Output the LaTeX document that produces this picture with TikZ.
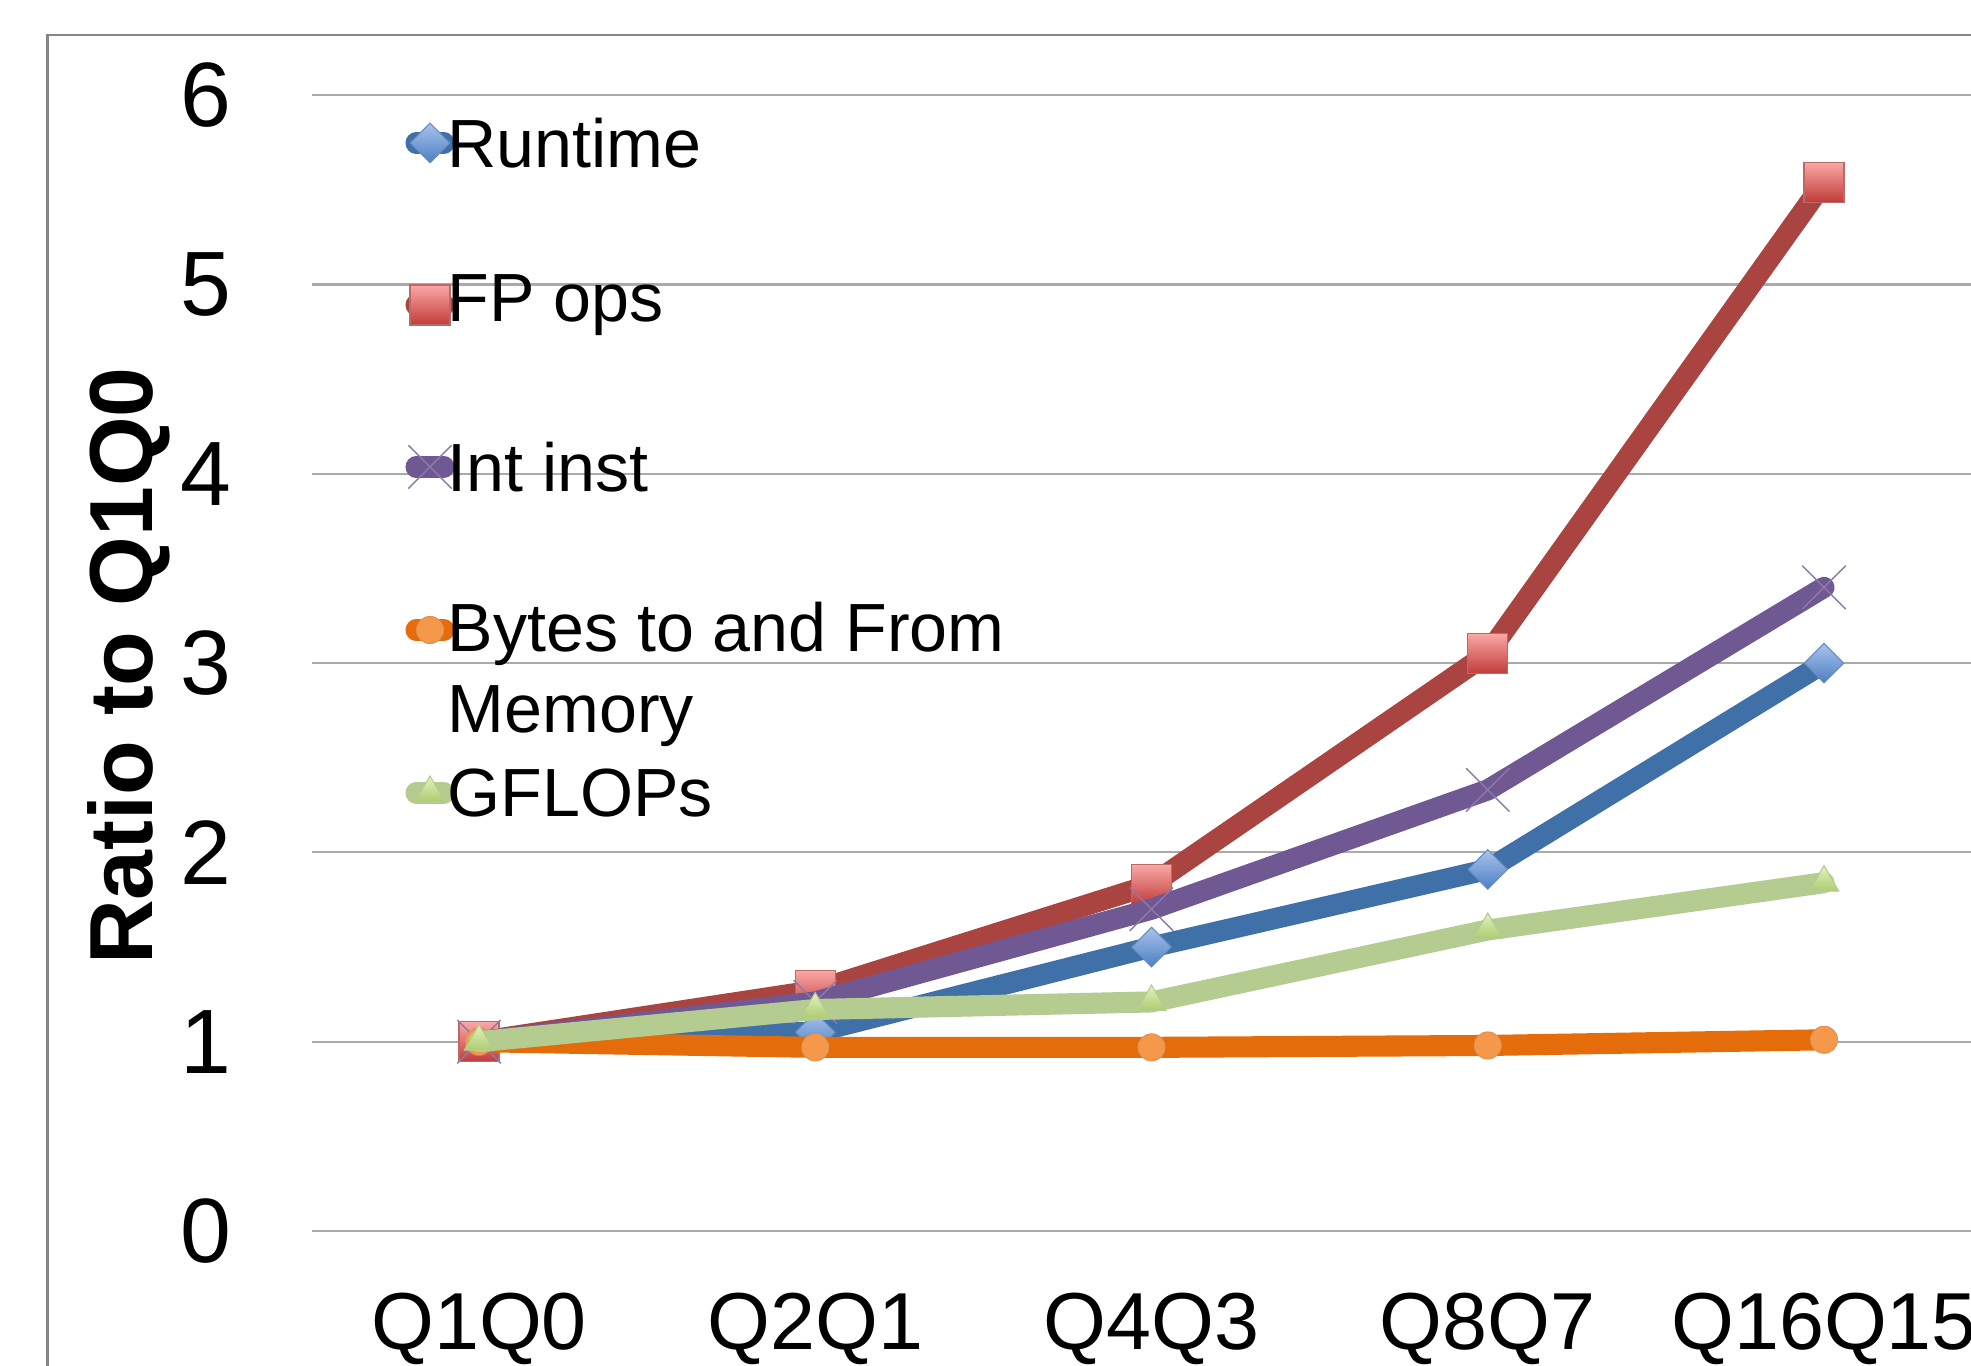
\documentclass[tikz,border=0pt]{standalone}
\usepackage{fontspec}
\setmainfont{Liberation Sans}
\usetikzlibrary{positioning, shapes.geometric, shapes.misc}

\definecolor{framegray}{RGB}{134,134,134}
\definecolor{gridgray}{RGB}{170,170,170}
\definecolor{rtblue}{RGB}{64,112,168}
\definecolor{rtlight}{RGB}{168,196,236}
\definecolor{rtdark}{RGB}{78,126,196}
\definecolor{fpred}{RGB}{170,68,65}
\definecolor{fplight}{RGB}{250,168,166}
\definecolor{fpdark}{RGB}{192,60,58}
\definecolor{intpurple}{RGB}{112,88,146}
\definecolor{byorange}{RGB}{228,108,10}
\definecolor{bylight}{RGB}{246,152,74}
\definecolor{gfgreen}{RGB}{181,204,145}
\definecolor{gflight}{RGB}{228,242,190}
\definecolor{gfdark}{RGB}{172,204,112}

\begin{document}
\begin{tikzpicture}[
    gridline/.style={draw=gridgray, line width=0.6pt},
    series/.style={line width=6pt, line join=round, line cap=round},
    rtline/.style={series, draw=rtblue},
    fpline/.style={series, draw=fpred},
    intline/.style={series, draw=intpurple},
    byline/.style={series, draw=byorange},
    gfline/.style={series, draw=gfgreen},
    rtmark/.style={diamond, aspect=1, inner sep=0pt, minimum size=0.40cm, top color=rtlight, bottom color=rtdark, draw=rtblue!80, line width=0.3pt},
    fpmark/.style={rectangle, inner sep=0pt, minimum size=0.40cm, top color=fplight, bottom color=fpdark, draw=fpred!80, line width=0.3pt},
    intmark/.style={cross out, inner sep=0pt, minimum size=0.42cm, draw=intpurple!80, line width=0.4pt},
    bymark/.style={circle, inner sep=0pt, minimum size=0.27cm, fill=bylight, draw=bylight!80!gray, line width=0.3pt},
    gfmark/.style={regular polygon, regular polygon sides=3, inner sep=0pt, minimum size=0.34cm, top color=gflight, bottom color=gfdark, draw=gfgreen, line width=0.3pt},
    ticklabel/.style={font=\fontsize{26}{31}\selectfont},
    catlabel/.style={font=\fontsize{23}{28}\selectfont, anchor=base},
    legtext/.style={font=\fontsize{19.4}{23.2}\selectfont, inner sep=0pt, align=left},
    axtitle/.style={font=\fontsize{25.5}{30}\selectfont\bfseries, rotate=90}
]
\useasboundingbox (0,0) rectangle (19.71,13.66);
\clip (0,0) rectangle (19.71,13.66);
\fill[white] (0,0) rectangle (19.71,13.66);
\draw[framegray, line width=0.6pt] (0.475,-1) rectangle (21,13.31);

\node[axtitle] (ytitle) at (1.29,7.00) {Ratio to Q1Q0};

\begin{scope}[shift={(4.79,1.35)}, x=3.3625cm, y=1.893cm]
\foreach \v in {0,...,6} {
    \draw[gridline] (-0.497,\v) -- (4.45,\v);
    \node[ticklabel] (tick\v) at (-0.812,\v) {\v};
}
\foreach \c [count=\i from 0] in {Q1Q0,Q2Q1,Q4Q3,Q8Q7,Q16Q15}
    \node[catlabel] (cat\i) at (\i,-0.625) {\c};

\foreach \v [count=\i from 0] in {1,1.05,1.50,1.91,3.00}
    \coordinate (rt\i) at (\i,\v);
\foreach \v [count=\i from 0] in {1,1.27,1.83,3.05,5.54}
    \coordinate (fp\i) at (\i,\v);
\foreach \v [count=\i from 0] in {1,1.21,1.70,2.33,3.40}
    \coordinate (int\i) at (\i,\v);
\foreach \v [count=\i from 0] in {1,0.97,0.97,0.98,1.01}
    \coordinate (by\i) at (\i,\v);
\foreach \v [count=\i from 0] in {1,1.17,1.21,1.59,1.84}
    \coordinate (gf\i) at (\i,\v);

\draw[rtline] (rt0) -- (rt1) -- (rt2) -- (rt3) -- (rt4);
\foreach \i in {0,...,4} \node[rtmark] (rtm\i) at (rt\i) {};
\draw[fpline] (fp0) -- (fp1) -- (fp2) -- (fp3) -- (fp4);
\foreach \i in {0,...,4} \node[fpmark] (fpm\i) at (fp\i) {};
\draw[intline] (int0) -- (int1) -- (int2) -- (int3) -- (int4);
\foreach \i in {0,...,4} \node[intmark] (intm\i) at (int\i) {};
\draw[byline] (by0) -- (by1) -- (by2) -- (by3) -- (by4);
\foreach \i in {0,...,4} \node[bymark] (bym\i) at (by\i) {};
\draw[gfline] (gf0) -- (gf1) -- (gf2) -- (gf3) -- (gf4);
\foreach \i in {0,...,4} \node[gfmark] (gfm\i) at (gf\i) {};
\end{scope}

\coordinate (lrt) at (4.30,12.23);
\coordinate (lfp) at (4.30,10.61);
\coordinate (lint) at (4.30,8.99);
\coordinate (lby) at (4.30,7.36);
\coordinate (lgf) at (4.30,5.73);

\draw[rtline] (lrt) +(-0.14,0) -- +(0.14,0);
\node[rtmark] (lrtm) at (lrt) {};
\node[legtext, right=0.17cm of lrt] (lrtt) {Runtime};
\draw[fpline] (lfp) +(-0.14,0) -- +(0.14,0);
\node[fpmark] (lfpm) at (lfp) {};
\node[legtext, right=0.17cm of lfp] (lfpt) {FP ops};
\draw[intline] (lint) +(-0.14,0) -- +(0.14,0);
\node[intmark] (lintm) at (lint) {};
\node[legtext, right=0.17cm of lint] (lintt) {Int inst};
\draw[byline] (lby) +(-0.14,0) -- +(0.14,0);
\node[bymark] (lbym) at (lby) {};
\node[legtext, anchor=north west] (lbyt) at (4.47,7.65) {Bytes to and From\\Memory};
\draw[gfline] (lgf) +(-0.14,0) -- +(0.14,0);
\node[gfmark] (lgfm) at (lgf) {};
\node[legtext, right=0.17cm of lgf] (lgft) {GFLOPs};
\end{tikzpicture}
\end{document}
